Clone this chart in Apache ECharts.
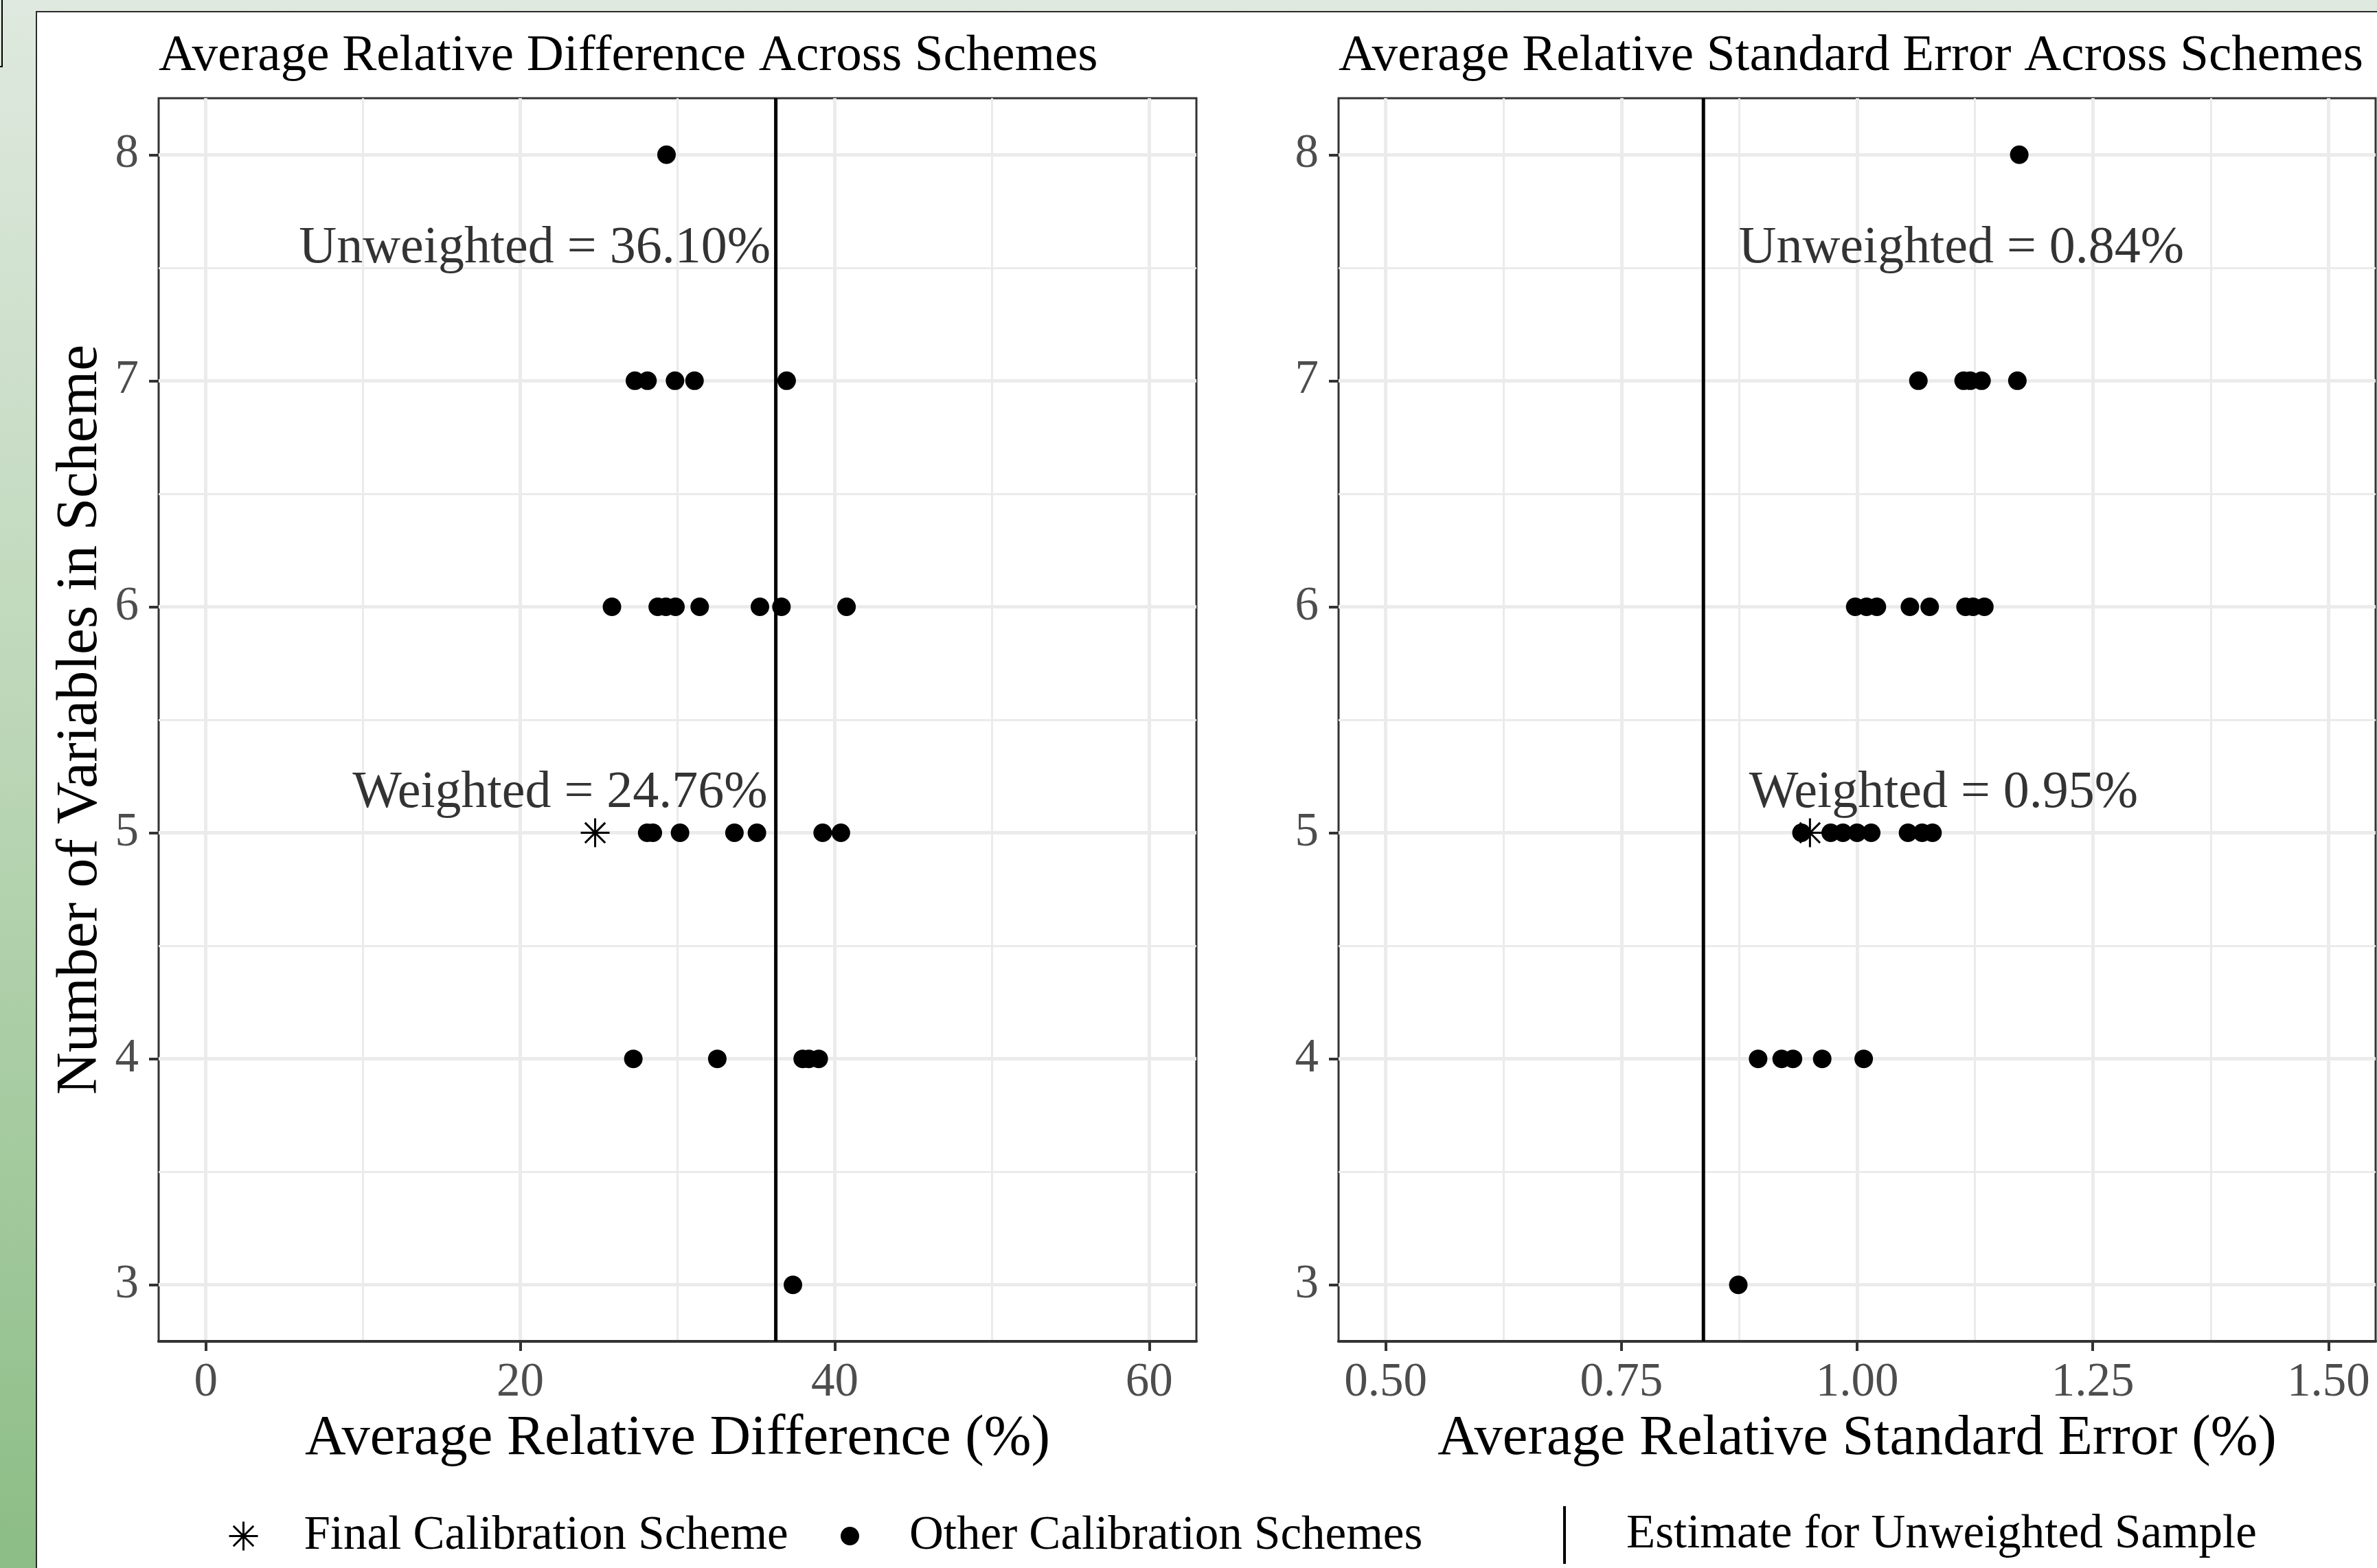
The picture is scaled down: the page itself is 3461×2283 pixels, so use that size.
<!DOCTYPE html>
<html>
<head>
<meta charset="utf-8">
<script src="https://cdn.jsdelivr.net/npm/echarts@6/dist/echarts.min.js"></script>
<style>
html, body { margin: 0; padding: 0; }
#c { width: 3461px; height: 2283px; }
</style>
</head>
<body>
<div id="c"></div>
<script>
// ---------- text ----------
const panelTitles = ['Average Relative Difference Across Schemes', 'Average Relative Standard Error Across Schemes'];
const xAxisTitles = ['Average Relative Difference (%)', 'Average Relative Standard Error (%)'];
const yAxisTitle = 'Number of Variables in Scheme';
const legendNames = ['Final Calibration Scheme', 'Other Calibration Schemes', 'Estimate for Unweighted Sample'];

// ---------- data ----------
const schemeSizes = [8, 7, 6, 5, 4, 3];

// Average relative difference (%) of other calibration schemes, by number of variables
const diff8 = [29.3];
const diff7 = [27.29, 28.09, 29.84, 31.08, 36.94];
const diff6 = [25.83, 28.74, 29.26, 29.87, 31.41, 35.24, 36.61, 40.75];
const diff5 = [28.07, 28.43, 30.16, 33.62, 35.05, 39.23, 40.39];
const diff4 = [27.19, 32.53, 37.96, 38.35, 38.98];
const diff3 = [37.34];

// Average relative standard error (%) of other calibration schemes
const se8 = [1.172];
const se7 = [1.065, 1.113, 1.120, 1.132, 1.170];
const se6 = [0.998, 1.010, 1.021, 1.056, 1.077, 1.115, 1.123, 1.135];
const se5 = [0.941, 0.972, 0.985, 1.000, 1.015, 1.054, 1.069, 1.080];
const se4 = [0.895, 0.920, 0.932, 0.963, 1.007];
const se3 = [0.874];

// Final calibration scheme
const finalSize = [5];
const finalDiff = [24.76];
const finalSE = [0.95];

// Unweighted sample estimates (vertical lines)
const unweightedDiff = 36.25;
const unweightedSE = 0.837;

// Axis ticks
const diffTicks = [0, 20, 40, 60];
const diffMinorTicks = [10, 30, 50];
const seTicks = [0.5, 0.75, 1.0, 1.25, 1.5];
const seMinorTicks = [0.625, 0.875, 1.125, 1.375];
const yTicks = [3, 4, 5, 6, 7, 8];
const yMinorTicks = [3.5, 4.5, 5.5, 6.5, 7.5];
const diffRange = [-3, 63];
const seRange = [0.45, 1.55];
const yRange = [2.75, 8.25];

// Annotations
const annotTextsDiff = ['Unweighted = 36.10%', 'Weighted = 24.76%'];
const annotTextsSE = ['Unweighted = 0.84%', 'Weighted = 0.95%'];
const annotXDiff = [35.94, 35.75];
const annotXSE = [0.874, 0.885];
const annotY = [7.583, 5.175];

// ---------- build ----------
const FONT = 'Liberation Serif';
function rows(groups) {
  const out = [];
  schemeSizes.forEach((n, i) => groups[i].forEach(v => out.push([v, n])));
  return out;
}
const diffPts = rows([diff8, diff7, diff6, diff5, diff4, diff3]);
const sePts = rows([se8, se7, se6, se5, se4, se3]);
const finalDiffPts = finalDiff.map((v, i) => [v, finalSize[i]]);
const finalSEPts = finalSE.map((v, i) => [v, finalSize[i]]);

const starPath = 'path://M0,-10L0,10M-10,0L10,0M-7,-7L7,7M-7,7L7,-7';
const linePath = 'path://M0,0L1,0L1,21L0,21Z';

const gridTop = 143, gridH = 1810;
const grids = [
  { left: 231, top: gridTop, width: 1511, height: gridH },
  { left: 1949, top: gridTop, width: 1510, height: gridH }
].map(g => Object.assign(g, { show: true, borderColor: '#333', borderWidth: 3, backgroundColor: '#fff', outerBoundsMode: 'none', containLabel: false }));

const tickStyle = { color: '#333', width: 4 };
const labelStyle = { fontSize: 69, fontFamily: FONT, color: '#4d4d4d' };

function majorX(gi, range, ticks, fmt, name) {
  return {
    gridIndex: gi, type: 'value', min: range[0], max: range[1],
    axisLine: { show: true, onZero: false, lineStyle: { color: '#333', width: 4 } },
    axisTick: { show: true, customValues: ticks, length: 14, lineStyle: tickStyle },
    axisLabel: Object.assign({ customValues: ticks, margin: 26, formatter: fmt }, labelStyle),
    splitLine: { show: true, lineStyle: { color: '#ebebeb', width: 5 } },
    name: name, nameLocation: 'middle', nameGap: 101,
    nameTextStyle: { fontSize: 82.5, fontFamily: FONT, color: '#000' }
  };
}
function minorX(gi, range, ticks) {
  return {
    gridIndex: gi, type: 'value', min: range[0], max: range[1],
    axisLine: { show: false }, axisLabel: { show: false },
    axisTick: { show: false, customValues: ticks },
    splitLine: { show: true, lineStyle: { color: '#ebebeb', width: 3 } }
  };
}
function majorY(gi, name) {
  const a = {
    gridIndex: gi, type: 'value', min: yRange[0], max: yRange[1],
    axisLine: { show: false, onZero: false },
    axisTick: { show: true, customValues: yTicks, length: 14, lineStyle: tickStyle },
    axisLabel: Object.assign({ customValues: yTicks, margin: 29 }, labelStyle),
    splitLine: { show: true, lineStyle: { color: '#ebebeb', width: 5 } }
  };
  if (name) {
    a.name = name; a.nameLocation = 'middle'; a.nameGap = 70;
    a.nameTextStyle = { fontSize: 85.5, fontFamily: FONT, color: '#000' };
  }
  return a;
}
function minorY(gi) {
  return {
    gridIndex: gi, type: 'value', min: yRange[0], max: yRange[1],
    axisLine: { show: false, onZero: false }, axisLabel: { show: false },
    axisTick: { show: false, customValues: yMinorTicks },
    splitLine: { show: true, lineStyle: { color: '#ebebeb', width: 3 } }
  };
}

function annotSeries(xi, xs, texts, pos) {
  return {
    type: 'scatter', xAxisIndex: xi, yAxisIndex: xi, z: 5, silent: true,
    symbolSize: 1, itemStyle: { color: 'transparent' },
    data: xs.map((x, i) => ({ value: [x, annotY[i]], label: { formatter: texts[i] } })),
    label: { show: true, position: pos, distance: 0, fontSize: 76, fontFamily: FONT, color: '#000' }
  };
}

const otherStyle = { symbol: 'circle', symbolSize: 27, itemStyle: { color: '#000', opacity: 1 } };
const starStyle = { symbol: starPath, symbolSize: 42, symbolKeepAspect: true,
  itemStyle: { color: 'transparent', borderColor: '#000', borderWidth: 3, opacity: 1 } };
const lineStyleS = { symbol: 'none', lineStyle: { color: '#000', width: 5 }, itemStyle: { color: '#000' } };

const legendText = { fontSize: 69, fontFamily: FONT, color: '#000' };

const option = {
  animation: false,
  backgroundColor: {
    type: 'linear', x: 0, y: 0, x2: 0, y2: 1,
    colorStops: [{ offset: 0, color: '#dfe9df' }, { offset: 0.5, color: '#b9d5b4' }, { offset: 1, color: '#8cbd86' }]
  },
  graphic: [
    { type: 'rect', z: -10, shape: { x: 53, y: 17, width: 3420, height: 2280 },
      style: { fill: '#ffffff', stroke: '#2a2a2a', lineWidth: 2 } },
    { type: 'polyline', z: -10, shape: { points: [[0, 97], [3, 97], [3, 0]] },
      style: { fill: null, stroke: '#000', lineWidth: 2 } }
  ],
  title: [
    { text: panelTitles[0], left: 231, top: 45, padding: 0,
      textStyle: { fontSize: 75, fontWeight: 'normal', fontFamily: FONT, color: '#000' } },
    { text: panelTitles[1], left: 1949, top: 45, padding: 0,
      textStyle: { fontSize: 75, fontWeight: 'normal', fontFamily: FONT, color: '#000' } }
  ],
  legend: [
    { left: 332, top: 2202, padding: 0, itemWidth: 42, itemHeight: 42, selectedMode: false,
      textStyle: Object.assign({ padding: [0, 0, 0, 62] }, legendText),
      data: [{ name: legendNames[0], icon: starPath,
        itemStyle: { color: 'transparent', borderColor: '#000', borderWidth: 3 } }] },
    { left: 1224, top: 2202, padding: 0, itemWidth: 27, itemHeight: 27, selectedMode: false,
      textStyle: Object.assign({ padding: [0, 0, 0, 68] }, legendText),
      data: [{ name: legendNames[1], icon: 'circle', itemStyle: { color: '#000', opacity: 1 } }] },
    { left: 2276, top: 2193, padding: 0, itemWidth: 4, itemHeight: 84, selectedMode: false,
      textStyle: Object.assign({ padding: [0, 0, 0, 83] }, legendText),
      data: [{ name: legendNames[2], icon: linePath, itemStyle: { color: '#000', borderWidth: 0 } }] }
  ],
  grid: grids,
  xAxis: [
    majorX(0, diffRange, diffTicks, v => String(v), xAxisTitles[0]),
    majorX(1, seRange, seTicks, v => v.toFixed(2), xAxisTitles[1]),
    minorX(0, diffRange, diffMinorTicks),
    minorX(1, seRange, seMinorTicks)
  ],
  yAxis: [
    majorY(0, yAxisTitle),
    majorY(1, null),
    minorY(0),
    minorY(1)
  ],
  series: [
    Object.assign({ name: legendNames[1], type: 'scatter', xAxisIndex: 0, yAxisIndex: 0, z: 2, data: diffPts }, otherStyle),
    Object.assign({ name: legendNames[1], type: 'scatter', xAxisIndex: 1, yAxisIndex: 1, z: 2, data: sePts }, otherStyle),
    Object.assign({ name: legendNames[2], type: 'line', xAxisIndex: 0, yAxisIndex: 0, z: 3,
      data: [[unweightedDiff, yRange[0]], [unweightedDiff, yRange[1]]] }, lineStyleS),
    Object.assign({ name: legendNames[2], type: 'line', xAxisIndex: 1, yAxisIndex: 1, z: 3,
      data: [[unweightedSE, yRange[0]], [unweightedSE, yRange[1]]] }, lineStyleS),
    Object.assign({ name: legendNames[0], type: 'scatter', xAxisIndex: 0, yAxisIndex: 0, z: 4, data: finalDiffPts }, starStyle),
    Object.assign({ name: legendNames[0], type: 'scatter', xAxisIndex: 1, yAxisIndex: 1, z: 4, data: finalSEPts }, starStyle),
    annotSeries(0, annotXDiff, annotTextsDiff, 'left'),
    annotSeries(1, annotXSE, annotTextsSE, 'right')
  ]
};

const chart = echarts.init(document.getElementById('c'), null, { renderer: 'canvas' });
chart.setOption(option);
</script>
</body>
</html>
